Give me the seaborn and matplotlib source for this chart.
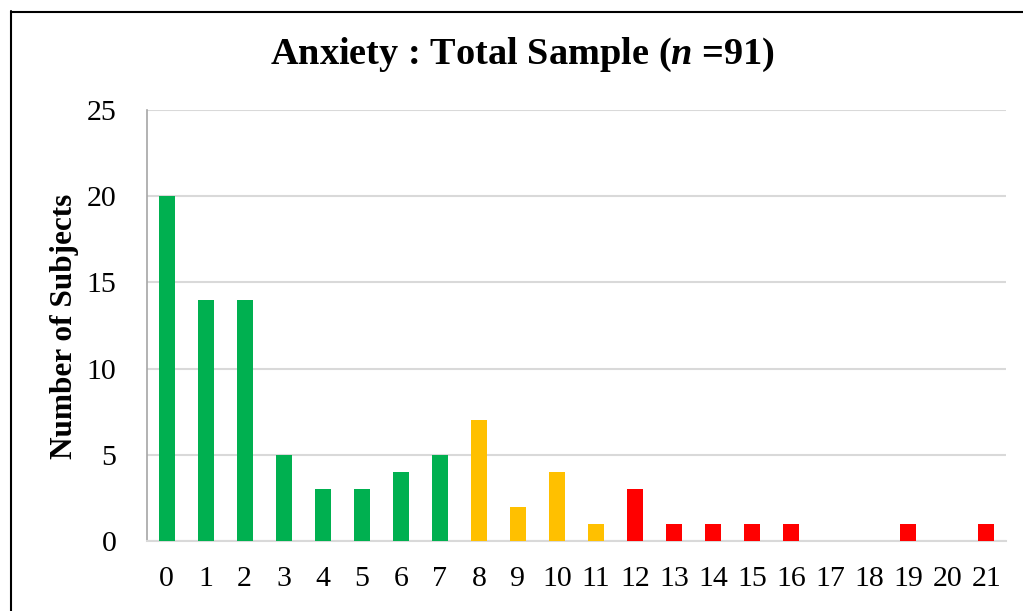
import matplotlib
matplotlib.use("Agg")
import matplotlib.pyplot as plt
import seaborn as sns
import pandas as pd
from matplotlib.lines import Line2D

scores = [str(i) for i in range(22)]
counts = [20, 14, 14, 5, 3, 3, 4, 5, 7, 2, 4, 1, 3, 1, 1, 1, 1, 0, 0, 1, 0, 1]
levels = ["normal"] * 8 + ["borderline"] * 4 + ["abnormal"] * 10
palette = {"normal": "#00B050", "borderline": "#FFC000", "abnormal": "#FF0000"}
yticks = [0, 5, 10, 15, 20, 25]
title = "Anxiety : Total Sample ($n$ =91)"
ylabel = "Number of Subjects"

sns.set_theme(style="white")
plt.rcParams["font.family"] = ["Liberation Serif", "DejaVu Serif"]
plt.rcParams["mathtext.fontset"] = "custom"
plt.rcParams["mathtext.it"] = "Liberation Serif:italic:bold"
plt.rcParams["mathtext.rm"] = "Liberation Serif:bold"
for k in ["text.color", "axes.labelcolor", "xtick.color", "ytick.color"]:
    plt.rcParams[k] = "black"

df = pd.DataFrame({"score": scores, "count": counts, "level": levels})

W, H = 1023, 611
fig = plt.figure(figsize=(W / 100, H / 100), dpi=100)
ax = fig.add_axes([147 / W, 1 - 541 / H, (1006 - 147) / W, (541 - 110) / H])

sns.barplot(data=df, x="score", y="count", hue="level", palette=palette,
            order=scores, dodge=False, width=0.41, legend=False, ax=ax,
            saturation=1, linewidth=0, edgecolor="none", zorder=3)

ax.set_ylim(0, 25)
ax.set_xlim(-0.5, len(scores) - 0.5)
ax.set_yticks(yticks)
ax.yaxis.grid(True, color="#D9D9D9", linewidth=1.5, zorder=0)
ax.set_axisbelow(True)
ax.set_xlabel("")
ax.set_ylabel("")
for s in ["top", "right"]:
    ax.spines[s].set_visible(False)
ax.spines["left"].set_color("#A6A6A6")
ax.spines["left"].set_linewidth(1.2)
ax.spines["bottom"].set_color("#D9D9D9")
ax.spines["bottom"].set_linewidth(1.5)
ax.tick_params(axis="y", length=0, pad=22, labelsize=21.5, colors="black")
ax.tick_params(axis="x", length=0, pad=18, labelsize=21.5, colors="black")

fig.text(523 / W, 1 - 55 / H, title, ha="center", va="center",
         fontsize=27.6, fontweight="bold")
fig.text(65 / W, 1 - 326 / H, ylabel, ha="center", va="center",
         rotation=90, fontsize=22.5, fontweight="bold")

# outer frame (left and top edges visible)
fig.add_artist(Line2D([10.5 / W, 10.5 / W], [0, 1 - 11 / H], color="black", linewidth=1.5,
                      transform=fig.transFigure))
fig.add_artist(Line2D([10.5 / W, 1], [1 - 11.5 / H, 1 - 11.5 / H], color="black", linewidth=1.5,
                      transform=fig.transFigure))

fig.savefig("out.png", dpi=100)
